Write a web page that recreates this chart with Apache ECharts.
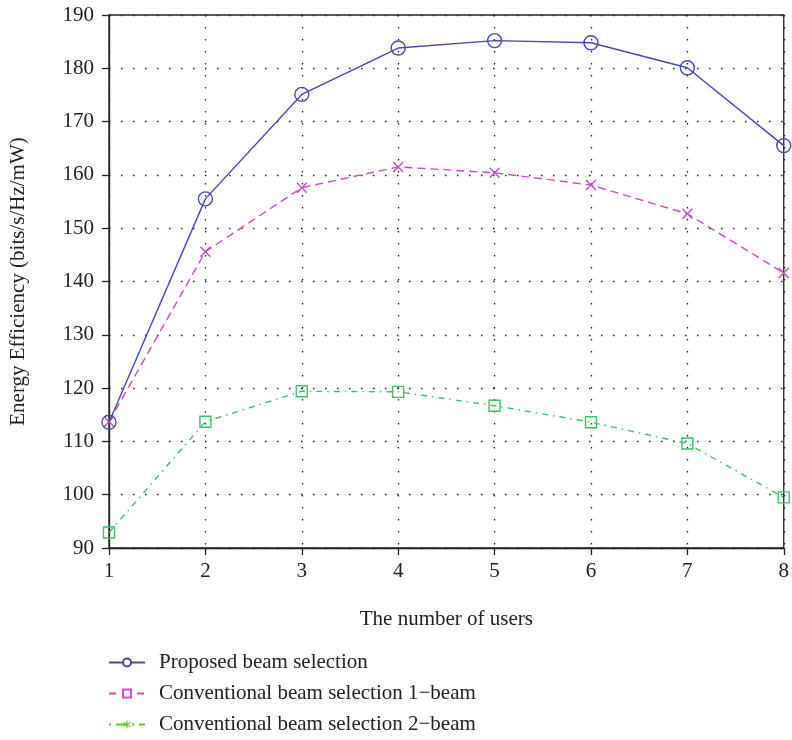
<!DOCTYPE html>
<html><head><meta charset="utf-8">
<script src="https://cdn.jsdelivr.net/npm/echarts@6/dist/echarts.min.js"></script>
<style>html,body{margin:0;padding:0;background:#fff}#c{width:792px;height:740px}</style>
</head><body><div id="c"></div>
<script>
const users = [1, 2, 3, 4, 5, 6, 7, 8];
const proposed = [113.6, 155.5, 175.1, 183.8, 185.2, 184.8, 180.1, 165.5];
const conv1 = [113.7, 145.6, 157.6, 161.5, 160.4, 158.1, 152.7, 141.6];
const conv2 = [92.9, 113.7, 119.4, 119.3, 116.7, 113.6, 109.6, 99.5];
const yTicks = [90, 100, 110, 120, 130, 140, 150, 160, 170, 180, 190];
const legendNames = ['Proposed beam selection', 'Conventional beam selection 1\u2212beam', 'Conventional beam selection 2\u2212beam'];

const FONT = '"Liberation Serif", "DejaVu Serif", serif';
const FS = 21;
const BLUE = '#4848b4', MAG = '#c64cc4', GREEN = '#3fbf6c', LMAG = '#d64cbc', LIME = '#66c61c';
const pair = arr => users.map((u, i) => [u, arr[i]]);
const XPATH = 'path://M0,0L10,10M10,0L0,10';
const STAR = 'path://M4.4,0H5.6V3.6L8.7,1.8L9.3,2.8L6.2,4.6V5.4L9.3,7.2L8.7,8.2L5.6,6.4V10H4.4V6.4L1.3,8.2L0.7,7.2L3.8,5.4V4.6L0.7,2.8L1.3,1.8L4.4,3.6Z';

const chart = echarts.init(document.getElementById('c'), null, {renderer: 'canvas'});
chart.setOption({
  animation: false,
  backgroundColor: '#fff',
  grid: {left: 108, right: 7, top: 15, bottom: 192, show: true, borderColor: '#222', borderWidth: 1.3},
  legend: {
    orient: 'vertical', left: 108, top: 652, itemWidth: 36, itemHeight: 10, itemGap: 10, padding: 0,
    data: legendNames,
    textStyle: {fontFamily: FONT, fontSize: FS, color: '#222', padding: [0, 0, 0, 9]}
  },
  xAxis: {
    type: 'value', min: 1, max: 8, interval: 1,
    name: 'The number of users', nameLocation: 'middle', nameGap: 61,
    nameTextStyle: {fontFamily: FONT, fontSize: FS, color: '#222'},
    axisLine: {onZero: false, lineStyle: {color: '#222', width: 1.3}},
    axisTick: {show: true, inside: false, length: 7, lineStyle: {color: '#222', width: 1.3}},
    axisLabel: {fontFamily: FONT, fontSize: FS, color: '#222', margin: 13},
    splitLine: {show: true, lineStyle: {color: '#222', width: 1.3, type: [1.5, 10.5]}}
  },
  yAxis: {
    type: 'value', min: yTicks[0], max: yTicks[yTicks.length - 1], interval: 10,
    name: 'Energy Efficiency (bits/s/Hz/mW)', nameLocation: 'middle', nameGap: 80,
    nameTextStyle: {fontFamily: FONT, fontSize: FS, color: '#222'},
    axisLine: {show: true, lineStyle: {color: '#222', width: 1.3}},
    axisTick: {show: true, inside: false, length: 7, lineStyle: {color: '#222', width: 1.3}},
    axisLabel: {fontFamily: FONT, fontSize: FS, color: '#222', margin: 15},
    splitLine: {show: true, lineStyle: {color: '#222', width: 1.3, type: [1.5, 10.5]}}
  },
  series: [
    {name: 'p_plot', type: 'line', data: pair(proposed), symbol: 'circle', symbolSize: 14,
     lineStyle: {color: BLUE, width: 1.4}, itemStyle: {color: 'none', borderColor: BLUE, borderWidth: 1.4}, z: 5},
    {name: 'c1_plot', type: 'line', data: pair(conv1), symbol: XPATH, symbolSize: 10,
     lineStyle: {color: MAG, width: 1.4, type: [8, 5]}, itemStyle: {color: 'none', borderColor: MAG, borderWidth: 1.4}, z: 4},
    {name: 'c2_plot', type: 'line', data: pair(conv2), symbol: 'rect', symbolSize: 11,
     lineStyle: {color: GREEN, width: 1.4, type: [6, 5, 1.5, 5]}, itemStyle: {color: 'none', borderColor: GREEN, borderWidth: 1.4}, z: 3},
    {name: legendNames[0], type: 'line', data: [], symbol: 'emptyCircle',
     lineStyle: {color: BLUE, width: 1.5}, itemStyle: {color: BLUE, borderWidth: 1.5}},
    {name: legendNames[1], type: 'line', data: [], symbol: 'emptyRect',
     lineStyle: {color: LMAG, width: 1.5, type: [7, 7]}, itemStyle: {color: LMAG, borderWidth: 1.5}},
    {name: legendNames[2], type: 'line', data: [], symbol: STAR,
     lineStyle: {color: LIME, width: 1.5, type: [2, 5, 10, 6]}, itemStyle: {color: LIME}}
  ]
});
</script></body></html>
